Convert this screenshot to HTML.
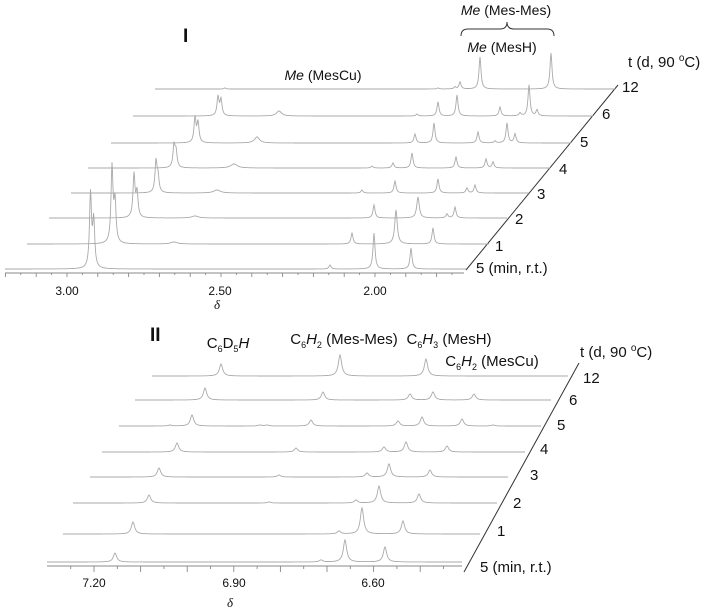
<!DOCTYPE html>
<html><head><meta charset="utf-8"><style>
html,body{margin:0;padding:0;background:#fff;}
svg{display:block;font-family:"Liberation Sans",Arial,sans-serif;}
</style></head><body>
<svg id="s" width="706" height="611" viewBox="0 0 706 611" xmlns="http://www.w3.org/2000/svg">
<g font-size="14" fill="#111">
<text x="183" y="42" font-size="19" font-weight="bold">I</text>
<text x="506" y="15" text-anchor="middle"><tspan font-style="italic">Me</tspan> (Mes-Mes)</text>
<path d="M461,36 Q461,29 468,29 L500,29 Q507,29 507,22 Q507,29 514,29 L547,29 Q554,29 554,36" fill="none" stroke="#333" stroke-width="1"/>
<text x="502" y="52" text-anchor="middle"><tspan font-style="italic">Me</tspan> (MesH)</text>
<text x="323" y="80" text-anchor="middle"><tspan font-style="italic">Me</tspan> (MesCu)</text>
<g font-size="15">
<text x="628" y="67">t (d, 90 <tspan font-size="10" dy="-6">o</tspan><tspan dy="6">C)</tspan></text>
<text x="622" y="92">12</text><text x="602" y="119">6</text><text x="580" y="147">5</text><text x="559" y="174">4</text><text x="537" y="199">3</text><text x="515" y="224">2</text><text x="495" y="251">1</text><text x="476" y="273">5 (min, r.t.)</text>
</g>
<text x="67" y="295" text-anchor="middle" font-size="12">3.00</text>
<text x="220" y="295" text-anchor="middle" font-size="12">2.50</text>
<text x="375" y="295" text-anchor="middle" font-size="12">2.00</text>
<text x="217" y="309" text-anchor="middle" font-size="13" font-style="italic" font-family="Liberation Serif,serif">δ</text>

<text x="150" y="341" font-size="19" font-weight="bold">II</text>
<text x="228" y="348" text-anchor="middle" font-size="15">C<tspan font-size="9" dy="4">6</tspan><tspan dy="-4">D</tspan><tspan font-size="9" dy="4">5</tspan><tspan dy="-4" font-style="italic">H</tspan></text>
<text x="344" y="344" text-anchor="middle" font-size="15">C<tspan font-size="9" dy="4">6</tspan><tspan dy="-4" font-style="italic">H</tspan><tspan font-size="9" dy="4">2</tspan><tspan dy="-4"> (Mes-Mes)</tspan></text>
<text x="449" y="344" text-anchor="middle" font-size="15">C<tspan font-size="9" dy="4">6</tspan><tspan dy="-4" font-style="italic">H</tspan><tspan font-size="9" dy="4">3</tspan><tspan dy="-4"> (MesH)</tspan></text>
<text x="492" y="366" text-anchor="middle" font-size="15">C<tspan font-size="9" dy="4">6</tspan><tspan dy="-4" font-style="italic">H</tspan><tspan font-size="9" dy="4">2</tspan><tspan dy="-4"> (MesCu)</tspan></text>
<g font-size="15">
<text x="580" y="357">t (d, 90 <tspan font-size="10" dy="-6">o</tspan><tspan dy="6">C)</tspan></text>
<text x="583" y="383">12</text><text x="569" y="405">6</text><text x="557" y="430">5</text><text x="540" y="454">4</text><text x="530" y="480">3</text><text x="513" y="508">2</text><text x="497" y="536">1</text><text x="480" y="572">5 (min, r.t.)</text>
</g>
<text x="94" y="587" text-anchor="middle" font-size="12">7.20</text>
<text x="234" y="587" text-anchor="middle" font-size="12">6.90</text>
<text x="373" y="587" text-anchor="middle" font-size="12">6.60</text>
<text x="230" y="607" text-anchor="middle" font-size="13" font-style="italic" font-family="Liberation Serif,serif">δ</text>
</g>
<line x1="466" y1="270" x2="618" y2="85" stroke="#333" stroke-width="1"/>
<line x1="464" y1="572" x2="579" y2="363" stroke="#333" stroke-width="1"/>
<g id="g" fill="none" stroke="#aaa" stroke-width="0.9"></g>
</svg>
<script>
var g=document.getElementById('g'),NS="http://www.w3.org/2000/svg";
function line(x1,y1,x2,y2,c){var l=document.createElementNS(NS,'line');l.setAttribute('x1',x1);l.setAttribute('y1',y1);l.setAttribute('x2',x2);l.setAttribute('y2',y2);l.setAttribute('stroke',c||'#777');g.appendChild(l);}
function trace(x0,x1,b,pk,w){var d='';for(var x=x0;x<=x1;x+=0.5){var y=b;for(var i=0;i<pk.length;i++){var p=pk[i],ww=p[2]||w,dx=x-p[0];y-=(b-p[1])*ww*ww/(dx*dx+ww*ww);}d+=(d?'L':'M')+x.toFixed(1)+','+y.toFixed(1);}var e=document.createElementNS(NS,'path');e.setAttribute('d',d);g.appendChild(e);}
var T=[
[5,466,269,[[90.5,195],[93.7,222],[330,265],[374,233],[411,248]]],
[27,489,244,[[112,168],[115,203],[174,242,4],[352,233],[396,210,1.5],[433,228]]],
[49,507,218,[[134,175],[137,193],[195,216,4],[374,205],[418,197,1.5],[447,214],[455,207]]],
[71,529,193,[[156,162],[158,178],[217,190,4],[362,190],[395,181],[438,179],[467,188],[475,185]]],
[88,550,168,[[174,146],[176,152],[234,164,4],[372,166],[393,163],[412,153],[456,157],[486,159],[493,162]]],
[111,571,143,[[195,118],[198,123],[257,137,3],[415,134],[434,123],[478,132],[495,141],[507,123],[515,134]]],
[133,593,116,[[218,97],[221,100],[279,111,3],[417,114],[438,102],[457,95],[500,107],[520,113],[529,85],[537,110]]],
[155,615,89,[[225,88],[438,88],[455,87],[460,82],[480,57],[551,53]]]];
T.forEach(function(t){trace(t[0],t[1],t[2],t[3],1.2);});
line(5,273,464,273,'#888');
for(var p=3.20;p>=1.70;p-=0.05){var x=67+(3.00-p)*308;if(x<5||x>464)continue;var mj=Math.abs(Math.round(p*10)-p*10)<0.01;line(x,273,x,mj?277:275,'#888');}
var B=[
[47,462,562,[[115,553],[321,560],[345,540],[385,547]]],
[63,480,534,[[133,522],[339,531],[362,508],[403,521]]],
[73,497,503,[[149,495],[269,502],[356,500],[379,486],[419,494]]],
[90,508,477,[[159,468],[279,475],[367,473],[389,464],[430,470]]],
[102,525,452,[[177,443],[296,448],[384,447],[406,442],[447,446]]],
[119,541,426,[[170,425],[192,415],[260,425],[267,425],[311,420],[398,421],[422,417],[462,419],[493,425]]],
[135,551,400,[[205,388],[323,392],[410,394],[433,392],[474,394]]],
[152,568,376,[[221,364],[340,355],[426,359]]]];
B.forEach(function(t){trace(t[0],t[1],t[2],t[3],2);});
line(47,566,462,566,'#888');
for(var p=7.25;p>=6.35;p-=0.05){var x=94+(7.20-p)*466;if(x<47||x>462)continue;var mj=Math.abs(Math.round(p*10)-p*10)<0.01;line(x,566,x,mj?572:569,'#888');}
</script>
</body></html>
